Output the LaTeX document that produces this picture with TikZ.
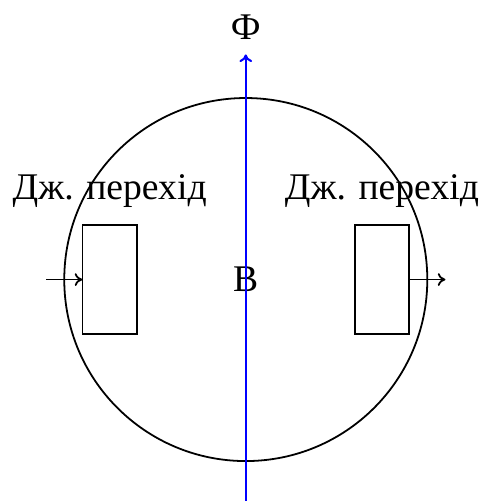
\documentclass[tikz,border=0pt]{standalone}
\usepackage{fontspec}
\setmainfont{Liberation Serif}
\usepackage{xcolor}
\usetikzlibrary{arrows.meta,positioning,calc}
\tikzset{
  jbox/.style={draw,rectangle,minimum width=1.5cm,minimum height=3cm,outer sep=0pt,inner sep=0pt},
  core/.style={draw,circle,minimum size=10cm,outer sep=0pt,inner sep=0pt},
  lbl/.style={inner sep=0pt,font=\fontsize{29.5}{32}\selectfont}
}

\begin{document}
\begin{tikzpicture}[>={To[length=6pt,width=10pt]}, line width=1.4pt]
  \useasboundingbox (-6.77,-6.10) rectangle (6.455,7.70);
  % labels
  \node[lbl] (bfield) at (0,0) {В};
  \node[lbl] (phi) at (0,6.95) {Ф};
  \node[lbl] (labl) at (-3.75,2.45) {Дж. перехід};
  \node[lbl] (labr) at (3.75,2.45) {Дж. перехід};
  % core and junctions
  \node[core] (core) at (0,0) {};
  \node[jbox] (jl) at (-3.75,0) {};
  \node[jbox] (jr) at (3.75,0) {};
  \coordinate (inl) at (-5.5,0);
  \coordinate (outr) at (5.5,0);
  \draw[->] (inl) -- (jl.west);
  \draw[->] (jr.east) -- (outr);
  % flux
  \coordinate (fluxa) at (0,-6.10);
  \coordinate (fluxb) at (0,6.2);
  \draw[->,blue,line width=1.6pt] (fluxa) -- (fluxb);
\end{tikzpicture}
\end{document}
